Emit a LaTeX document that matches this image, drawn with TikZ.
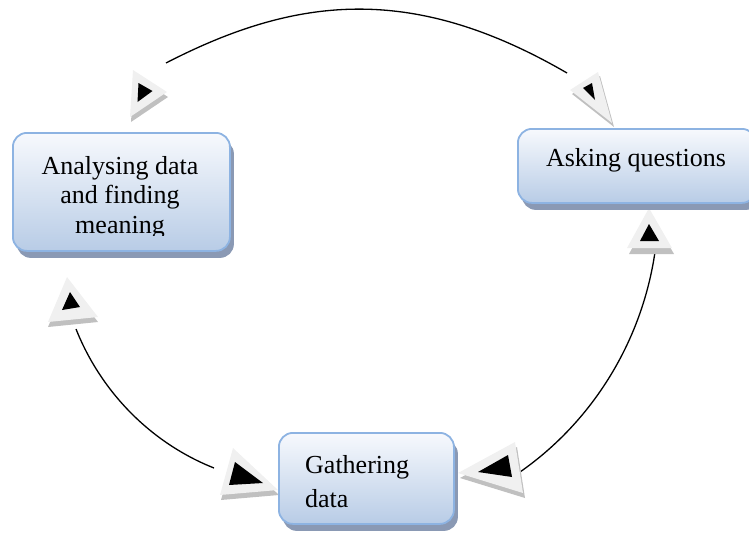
\documentclass[tikz,border=0pt]{standalone}
\usepackage{fontspec}
\setmainfont{Liberation Serif}
\usetikzlibrary{shadows}

\definecolor{boxline}{RGB}{141,179,226}
\definecolor{boxtop}{RGB}{247,249,253}
\definecolor{boxbottom}{RGB}{184,204,230}
\definecolor{boxshadow}{RGB}{138,153,180}
\definecolor{tipfacecol}{RGB}{240,240,240}
\definecolor{tipshadecol}{RGB}{192,192,192}

\begin{document}
\begin{tikzpicture}[x=1pt,y=-1pt,
  stage/.style={draw=boxline, line width=1.8pt, rounded corners=14pt,
    top color=boxtop, bottom color=boxbottom, inner sep=0pt,
    anchor=north west,
    drop shadow={shadow xshift=4pt, shadow yshift=-7pt,
      fill=boxshadow, opacity=1}},
  caption/.style={font=\fontsize{26}{30}\selectfont, inner sep=0pt},
  cycleline/.style={line width=1.3pt, black},
  tipshadow/.style={fill=tipshadecol},
  tipface/.style={fill=tipfacecol},
  tipcore/.style={fill=black},
]
\useasboundingbox (0,0) rectangle (749,538);
\clip (0,0) rectangle (749,538);

% connecting arcs of the cycle
\coordinate (topA) at (166,63);
\coordinate (topB) at (567,73);
\coordinate (rightA) at (655,252);
\coordinate (rightB) at (520,472);
\coordinate (leftA) at (76,329);
\coordinate (leftB) at (214,468);
\draw[cycleline] (topA) .. controls (296,-4) and (412,-17) .. (topB);
\draw[cycleline] (rightA) .. controls (642,341) and (593,421) .. (rightB);
\draw[cycleline] (leftA) .. controls (101,392) and (151,443) .. (leftB);

% arrow marks: shadow, face, black core
% top left
\fill[tipshadow, shift={(1,5)}] (133,70) -- (167,92) -- (130,117) -- cycle;
\fill[tipface] (133,70) -- (167,92) -- (130,117) -- cycle;
\fill[tipcore] (138.5,83) -- (152.5,91) -- (137.5,102) -- cycle;
% top right
\fill[tipshadow, shift={(2,4)}] (570,90) -- (598,72) -- (612,123) -- cycle;
\fill[tipface] (570,90) -- (598,72) -- (612,123) -- cycle;
\fill[tipcore] (583,88) -- (592,83) -- (595,100) -- cycle;
% left
\fill[tipshadow, shift={(0,5)}] (67,277) -- (98,317) -- (48,322) -- cycle;
\fill[tipface] (67,277) -- (98,317) -- (48,322) -- cycle;
\fill[tipcore] (70,292) -- (80,307) -- (62,310) -- cycle;
% right
\fill[tipshadow, shift={(2,6)}] (649,208) -- (672,248) -- (627,248) -- cycle;
\fill[tipface] (649,208) -- (672,248) -- (627,248) -- cycle;
\fill[tipcore] (649,224) -- (659,241) -- (640,241) -- cycle;
% bottom left
\fill[tipshadow, shift={(1,5)}] (233,448) -- (278,490) -- (220,495) -- cycle;
\fill[tipface] (233,448) -- (278,490) -- (220,495) -- cycle;
\fill[tipcore] (235,462) -- (263,483) -- (229,485) -- cycle;
% bottom right
\fill[tipshadow, shift={(2,5)}] (458,473) -- (515,442) -- (523,493) -- cycle;
\fill[tipface] (458,473) -- (515,442) -- (523,493) -- cycle;
\fill[tipcore] (478,472) -- (508,455) -- (512,477) -- cycle;

% the three stages
\node[stage, minimum width=217pt, minimum height=118pt] (analysing) at (12,132) {};
\node[stage, minimum width=238pt, minimum height=74pt] (asking) at (517,128) {};
\node[stage, minimum width=175pt, minimum height=91pt] (gathering) at (278,432) {};

\begin{scope}
  \clip (12,132) rectangle (229,235);
  \node[caption, anchor=base] (analysing1) at (120,174) {Analysing data};
  \node[caption, anchor=base] (analysing2) at (120,203.5) {and finding};
  \node[caption, anchor=base] (analysing3) at (120,233) {meaning};
\end{scope}
\node[caption, anchor=base] (askingtext) at (636,166) {Asking questions};
\node[caption, anchor=base west] (gathering1) at (305,473) {Gathering};
\node[caption, anchor=base west] (gathering2) at (305,507) {data};
\end{tikzpicture}
\end{document}
